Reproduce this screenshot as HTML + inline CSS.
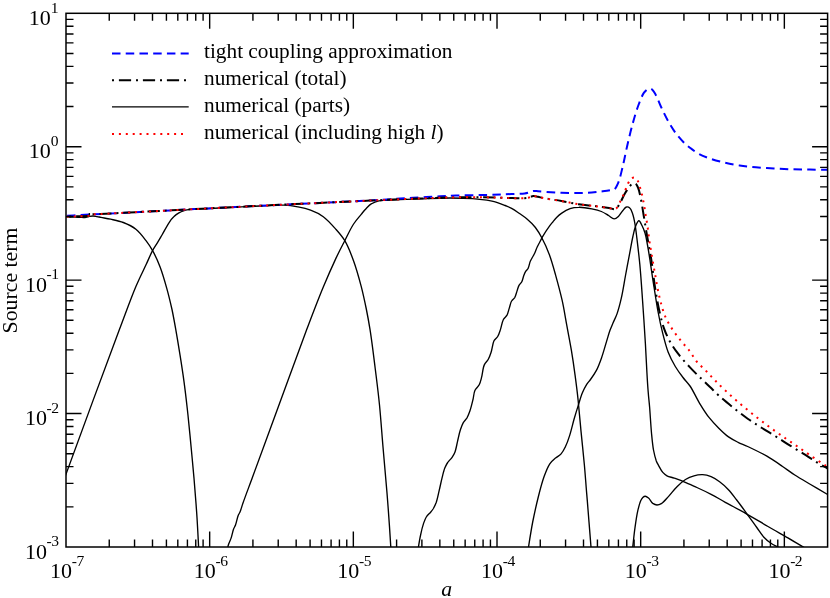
<!DOCTYPE html>
<html><head><meta charset="utf-8"><title>Source term</title>
<style>
html,body{margin:0;padding:0;background:#fff;}
body{width:830px;height:598px;overflow:hidden;font-family:"Liberation Serif",serif;}
svg{display:block;position:absolute;left:0;top:0;will-change:transform;}
text{font-family:"Liberation Serif",serif;fill:#000;}
</style></head><body>
<svg width="830" height="598" viewBox="0 0 830 598">
<rect x="0" y="0" width="830" height="598" fill="#fff"/>
<defs><clipPath id="cp"><rect x="66.0" y="13.3" width="761.6" height="533.7"/></clipPath></defs>

<g clip-path="url(#cp)" fill="none" stroke-linejoin="round">
<path d="M60.0 216.4C62.0 216.5 64.0 216.5 66.0 216.6C68.0 216.7 69.9 216.9 72.0 217.0C74.5 217.1 77.5 217.4 80.0 217.4C82.1 217.4 84.3 217.6 86.0 217.3C87.3 217.1 88.3 216.5 89.5 216.3C90.7 216.1 91.8 216.0 93.0 216.0C94.3 216.0 95.7 216.4 97.0 216.6C98.3 216.8 99.4 217.1 101.0 217.4C103.5 217.9 107.2 218.4 110.6 219.2C114.6 220.1 119.2 220.9 123.3 222.5C127.6 224.2 132.2 226.3 135.9 229.3C139.8 232.4 143.1 236.9 146.0 240.7C148.6 244.1 150.5 246.9 152.6 250.7C155.2 255.3 157.8 260.9 160.0 266.7C162.5 273.2 164.7 280.9 166.7 288.1C168.7 295.2 170.4 302.4 172.0 309.5C173.5 316.6 174.7 323.5 176.0 330.8C177.4 338.6 178.7 346.7 180.0 354.9C181.4 363.6 182.8 372.7 184.0 381.6C185.2 390.4 186.2 399.1 187.2 408.0C188.2 417.0 189.0 425.3 190.0 435.4C191.2 448.1 192.8 464.7 194.0 478.2C195.0 490.4 195.9 501.5 196.7 513.0C197.5 524.4 198.1 537.5 198.6 547.0C199.0 553.9 199.3 559.0 199.6 565.0" stroke="#000" stroke-width="1.35"/>
<path d="M60.0 491.0C61.8 485.9 62.6 483.5 65.4 475.8C74.0 452.0 106.6 363.5 119.5 329.3C126.5 310.8 130.9 298.3 135.9 286.5C139.5 278.0 143.0 271.2 146.0 264.8C148.4 259.7 150.3 254.9 152.4 250.9C154.1 247.7 155.9 245.3 157.5 242.6C159.1 240.0 160.3 237.9 162.0 235.0C164.2 231.3 167.0 225.6 169.3 222.3C170.9 219.9 172.3 218.2 174.0 216.6C175.5 215.1 177.2 213.9 178.9 212.9C180.4 212.0 181.9 211.3 183.5 210.8C185.1 210.3 186.8 210.0 188.5 209.7C190.3 209.4 192.1 209.3 194.0 209.2C196.0 209.1 197.4 209.0 200.0 208.9C204.7 208.7 212.2 208.4 220.0 208.0C231.0 207.5 248.2 206.5 260.0 206.0C269.3 205.6 278.0 204.9 285.0 205.2C290.0 205.4 293.7 206.1 298.0 206.9C302.3 207.7 306.5 208.6 310.6 210.2C314.9 211.8 319.3 213.8 323.3 216.7C327.8 220.0 332.2 225.1 335.9 229.3C339.3 233.1 342.1 236.2 344.8 240.7C348.1 246.3 351.0 253.8 353.6 261.0C356.5 268.9 359.0 278.1 361.2 286.3C363.2 294.0 364.8 301.6 366.3 309.0C367.7 315.9 368.7 321.4 370.0 329.3C371.8 340.5 373.8 356.9 375.4 370.0C376.9 382.1 378.3 392.8 379.5 405.0C380.8 418.4 381.8 432.7 383.0 447.0C384.3 462.0 385.7 477.0 387.0 493.0C388.4 510.3 390.0 533.8 390.8 547.0C391.3 554.6 391.5 559.0 391.8 565.0" stroke="#000" stroke-width="1.35"/>
<path d="M226.5 556.0C227.1 552.5 227.3 548.6 228.2 545.5C228.9 542.9 230.1 541.0 231.0 538.4C232.0 535.5 232.7 531.4 233.6 529.0C234.2 527.4 234.9 526.6 235.5 525.0C236.4 522.6 237.2 518.1 238.1 515.7C238.7 514.1 239.4 513.5 240.0 512.0C241.0 509.7 241.7 506.7 243.0 503.0C245.2 496.7 248.7 487.5 252.3 477.7C257.3 464.2 263.0 448.5 270.0 429.6C280.1 402.2 296.9 355.6 306.8 329.3C313.3 312.2 318.0 299.7 323.3 287.0C327.7 276.5 332.0 266.8 335.9 258.4C339.0 251.8 341.8 246.5 344.8 240.7C347.7 235.0 350.5 228.7 353.6 224.0C356.1 220.2 359.0 217.1 361.2 214.4C362.9 212.3 364.1 210.6 365.8 208.9C367.6 207.1 369.4 205.0 371.6 203.7C373.8 202.3 376.4 201.4 378.9 200.8C381.4 200.2 383.6 200.5 386.5 200.3C390.4 200.1 395.1 199.9 400.0 199.7C406.0 199.4 412.7 199.2 420.0 198.9C429.0 198.6 440.7 198.0 450.0 198.0C458.0 198.0 465.9 198.1 472.5 198.6C477.8 199.0 482.8 199.6 486.8 200.2C489.7 200.6 491.5 200.9 494.2 201.6C497.5 202.5 502.0 204.3 505.1 205.5C507.6 206.5 509.4 207.1 511.6 208.3C514.3 209.7 517.3 212.0 519.9 213.8C522.3 215.5 524.4 216.8 526.7 218.8C529.5 221.2 532.9 224.3 535.4 227.5C537.9 230.7 539.8 234.0 541.9 238.0C544.5 242.8 547.1 248.6 549.3 254.5C551.7 260.9 553.6 267.9 555.6 275.1C557.8 283.0 560.2 291.8 562.1 300.2C564.0 308.5 565.2 316.9 566.8 325.3C568.3 333.7 570.0 342.0 571.4 350.4C572.8 358.7 574.0 367.1 575.1 375.4C576.2 383.6 577.2 391.3 578.1 400.0C579.1 409.8 580.0 420.5 581.0 431.1C582.1 442.2 583.4 454.3 584.4 465.2C585.3 475.1 585.9 484.1 586.7 493.6C587.5 503.1 588.3 512.8 589.0 522.0C589.7 530.6 590.4 539.3 591.0 547.0C591.5 553.5 591.9 559.0 592.3 565.0" stroke="#000" stroke-width="1.35"/>
<path d="M417.0 556.0C417.5 553.1 417.9 550.4 418.4 547.2C419.0 543.5 419.7 539.0 420.6 535.0C421.4 531.1 422.4 526.8 423.5 523.6C424.4 521.1 425.1 518.9 426.3 517.0C427.5 515.2 429.3 513.7 430.6 512.2C431.7 510.9 432.5 509.9 433.4 508.5C434.5 506.7 435.4 504.7 436.3 502.3C437.4 499.1 438.2 494.8 439.1 490.9C440.1 486.8 441.0 482.1 442.0 478.1C442.9 474.5 443.7 470.9 444.8 468.1C445.7 465.9 446.5 464.2 447.7 462.5C448.9 460.7 450.7 459.3 451.9 457.6C453.0 456.0 454.0 454.6 454.8 452.5C456.0 449.5 456.7 444.9 457.6 441.1C458.5 437.3 459.3 433.1 460.4 429.8C461.3 427.1 462.1 424.7 463.3 422.6C464.4 420.8 465.9 419.6 467.0 417.8C468.1 415.9 468.9 413.8 469.8 411.3C471.0 408.0 472.1 403.2 473.0 399.5C473.8 396.3 473.7 393.1 474.9 390.5C475.9 388.3 478.1 386.9 479.2 384.8C480.3 382.6 480.8 380.4 481.5 377.7C482.5 374.1 482.8 368.2 484.3 364.9C485.4 362.5 487.2 361.4 488.3 359.3C489.5 357.1 490.2 354.9 491.1 352.2C492.2 348.9 492.6 343.6 494.0 340.8C495.0 338.9 496.7 338.2 497.7 336.5C498.9 334.5 499.6 332.0 500.5 329.4C501.5 326.4 502.1 322.0 503.4 319.5C504.4 317.6 506.0 316.9 507.0 315.2C508.1 313.2 508.5 310.5 509.3 308.1C510.1 305.7 510.5 302.8 511.6 301.0C512.4 299.5 513.8 299.0 514.7 297.6C515.7 295.9 516.3 293.2 517.0 291.1C517.7 289.1 518.1 287.0 519.0 285.4C519.8 284.0 521.0 283.2 521.8 281.7C522.7 280.0 523.1 277.4 523.8 275.5C524.4 273.9 525.0 272.4 525.8 271.2C526.5 270.1 527.4 269.6 528.1 268.4C529.0 266.6 529.4 263.3 530.3 261.3C531.0 259.7 531.8 258.4 532.6 257.0C533.4 255.6 534.2 254.3 534.9 252.7C535.7 251.0 536.4 248.7 537.2 247.0C537.9 245.5 538.6 244.3 539.4 242.8C540.3 241.0 541.1 239.3 542.3 237.1C544.1 234.0 547.3 229.0 549.3 226.3C550.6 224.5 551.6 223.4 552.8 222.0C554.0 220.5 555.2 218.9 556.6 217.5C558.1 216.0 559.5 214.7 561.4 213.4C563.8 211.7 567.1 209.6 570.1 208.6C572.9 207.6 575.6 207.3 578.8 207.3C582.7 207.2 587.8 208.1 591.8 208.9C595.3 209.6 598.5 210.3 601.4 211.5C604.0 212.6 606.3 214.2 608.5 215.5C610.5 216.7 612.4 218.9 614.2 218.9C615.7 218.9 617.1 217.6 618.4 216.4C620.0 215.0 621.3 212.4 622.7 210.7C623.9 209.3 625.1 207.3 626.4 207.0C627.5 206.7 628.9 207.2 629.8 208.0C631.1 209.1 631.8 211.5 632.6 213.7C633.6 216.5 634.3 220.2 634.9 223.6C635.6 227.3 635.9 230.3 636.5 235.0C637.4 242.5 638.8 253.8 639.8 264.1C640.9 275.7 641.7 288.3 642.6 301.1C643.6 314.8 644.6 330.9 645.4 343.7C646.0 354.1 646.4 363.6 646.9 372.2C647.3 379.4 647.7 385.9 648.2 392.0C648.6 397.3 649.1 401.3 649.6 407.0C650.2 414.5 650.8 425.3 651.5 433.0C652.1 439.3 652.6 445.0 653.5 450.0C654.3 454.1 655.3 458.2 656.3 461.0C657.0 462.8 657.6 463.7 658.5 465.3C659.7 467.4 661.2 470.6 662.8 472.4C664.1 473.9 665.3 474.9 667.0 475.8C669.0 476.9 671.5 477.2 674.1 478.1C677.2 479.2 680.6 480.4 684.1 481.8C688.1 483.4 692.5 485.5 696.9 487.5C701.5 489.6 706.4 491.9 711.1 494.3C715.9 496.8 720.2 499.5 725.3 502.3C731.4 505.7 738.4 509.2 745.2 513.1C752.6 517.3 760.6 522.2 768.0 526.5C774.8 530.5 781.7 534.3 787.9 537.9C793.4 541.1 798.7 544.3 803.5 547.2C807.6 549.6 811.2 551.7 815.0 554.0" stroke="#000" stroke-width="1.35"/>
<path d="M527.0 556.0C527.5 553.0 527.9 550.7 528.5 547.0C529.5 540.7 531.1 530.4 532.7 522.0C534.4 513.5 536.4 504.4 538.4 496.5C540.2 489.4 542.0 482.4 544.1 476.6C545.8 471.8 547.6 467.1 549.8 463.8C551.5 461.3 553.5 459.8 555.5 458.1C557.3 456.5 559.5 455.7 561.1 453.9C562.8 452.0 564.1 449.5 565.4 446.8C567.0 443.5 568.4 439.5 569.7 435.4C571.2 430.6 572.5 424.9 573.9 419.8C575.3 414.9 576.7 410.2 578.2 405.6C579.6 401.2 580.8 396.6 582.4 392.8C583.7 389.6 585.2 386.7 586.7 384.3C587.9 382.4 589.1 381.4 590.5 379.5C592.3 377.0 594.6 373.8 596.4 370.4C598.4 366.6 599.9 362.4 601.5 357.9C603.3 352.9 605.0 346.5 606.5 341.6C607.8 337.5 608.8 333.6 610.0 330.3C611.0 327.6 611.9 325.6 613.0 323.0C614.2 320.1 615.8 317.4 617.0 313.9C618.6 309.4 620.0 303.9 621.3 298.2C622.9 291.4 624.1 283.1 625.5 275.5C626.9 267.9 628.5 259.7 629.8 252.7C630.9 246.7 631.9 240.8 633.0 236.0C633.8 232.3 634.4 229.1 635.5 226.4C636.4 224.2 637.8 220.7 638.9 220.7C639.9 220.7 641.1 223.7 642.0 225.5C643.1 227.7 644.1 230.2 645.0 233.0C646.1 236.5 646.7 240.9 647.5 245.0C648.3 249.3 648.9 253.1 649.7 258.4C650.9 266.1 652.5 277.7 654.0 286.9C655.4 295.7 656.7 304.5 658.2 312.5C659.5 319.6 660.8 325.8 662.5 332.4C664.2 339.1 665.9 346.3 668.2 352.3C670.2 357.5 672.7 362.2 675.3 366.5C677.7 370.5 680.4 374.1 683.0 377.5C685.3 380.6 687.6 382.5 690.0 386.0C693.2 390.6 696.3 397.9 699.6 403.3C702.7 408.4 705.8 413.4 709.2 417.7C712.3 421.6 715.5 425.0 718.8 428.3C721.9 431.4 725.1 434.5 728.5 436.9C731.6 439.1 734.9 440.7 738.1 442.3C741.3 443.9 744.0 444.7 747.7 446.5C753.0 449.0 761.0 452.8 766.9 456.2C772.4 459.4 777.4 462.9 782.2 466.2C786.6 469.2 790.3 472.1 794.8 475.0C799.7 478.2 805.2 481.3 810.6 484.5C816.2 487.8 823.1 491.8 827.6 494.5C830.6 496.3 832.5 497.5 835.0 499.0" stroke="#000" stroke-width="1.35"/>
<path d="M631.5 556.0C631.9 553.0 632.2 550.6 632.7 547.0C633.4 541.8 634.1 533.9 635.0 527.7C635.8 521.8 636.7 515.6 637.8 510.7C638.7 506.9 639.6 503.1 640.7 500.7C641.4 499.3 642.0 498.3 642.8 497.5C643.5 496.8 644.4 496.2 645.3 496.2C646.3 496.2 647.4 497.1 648.5 498.0C650.0 499.2 651.2 502.2 652.8 503.4C654.1 504.3 655.6 505.0 657.0 505.0C658.4 505.0 659.8 504.6 661.3 503.7C663.5 502.4 666.0 499.2 668.4 496.6C671.2 493.6 674.0 489.6 677.0 486.7C679.7 484.0 682.5 481.4 685.5 479.5C688.2 477.8 691.1 476.6 694.0 475.8C696.8 475.0 699.8 474.6 702.6 474.7C705.5 474.8 708.4 475.6 711.1 476.7C714.0 477.9 716.9 479.8 719.6 481.8C722.6 484.0 725.5 486.6 728.2 489.5C731.2 492.6 733.8 496.3 736.7 500.0C739.8 504.0 743.0 508.4 746.2 512.8C749.7 517.5 753.6 523.1 756.8 527.5C759.4 531.1 761.4 534.5 763.9 537.2C766.1 539.6 768.5 541.6 771.0 543.3C773.3 544.9 775.7 545.8 778.1 547.1C780.7 548.4 783.4 549.7 786.0 551.0" stroke="#000" stroke-width="1.35"/>
<path d="M66.0 215.9C73.8 215.5 81.1 215.0 89.4 214.6C98.9 214.1 108.6 213.6 120.0 213.0C134.6 212.2 153.3 211.3 170.0 210.4C186.7 209.5 203.3 208.7 220.0 207.8C236.7 207.0 253.3 206.1 270.0 205.3C286.7 204.5 303.3 203.7 320.0 202.9C336.7 202.1 355.5 201.2 370.0 200.4C381.3 199.8 391.0 199.1 400.0 198.6C407.3 198.2 413.3 197.8 420.0 197.4C426.7 197.0 433.7 196.6 440.0 196.3C445.6 196.0 450.0 195.8 456.0 195.6C463.9 195.3 474.8 195.2 483.4 195.0C491.0 194.8 498.0 194.6 505.0 194.3C511.7 194.0 520.4 193.9 524.6 193.4C526.6 193.2 527.6 192.9 529.0 192.5C530.5 192.1 531.8 191.2 533.3 191.0C534.8 190.8 536.3 191.1 538.0 191.2C539.9 191.3 541.5 191.5 544.0 191.7C548.3 192.0 555.6 192.6 561.4 192.8C567.2 193.0 573.4 193.1 578.8 193.0C583.4 192.9 587.7 192.8 591.8 192.5C595.6 192.2 599.4 191.7 602.7 191.3C605.4 191.0 607.9 190.7 610.0 190.3C611.6 190.0 613.0 190.3 614.2 189.4C615.9 188.2 617.2 185.2 618.4 182.3C620.1 178.2 621.3 172.2 622.7 166.7C624.2 160.5 625.4 153.6 627.0 146.8C628.7 139.4 630.6 131.2 632.6 124.0C634.4 117.5 636.2 111.0 638.3 105.5C640.1 100.8 641.9 95.6 644.0 92.7C645.4 90.8 646.9 89.3 648.3 88.8C649.3 88.4 650.2 88.4 651.1 88.8C652.6 89.5 654.0 91.9 655.4 94.2C657.4 97.5 659.0 102.6 661.1 107.0C663.3 111.6 665.7 116.8 668.2 121.2C670.5 125.3 672.7 129.0 675.3 132.6C677.9 136.1 681.2 139.9 683.8 142.5C685.7 144.4 687.0 145.4 689.0 147.0C691.6 149.0 694.6 151.5 698.0 153.4C701.8 155.5 706.3 157.3 710.7 158.8C715.3 160.4 720.4 161.7 725.2 162.8C730.0 163.9 734.6 164.8 739.6 165.5C744.9 166.3 750.3 166.8 755.9 167.3C761.8 167.8 768.0 168.1 774.0 168.4C780.0 168.7 786.0 169.1 792.0 169.3C798.0 169.5 804.0 169.5 810.0 169.6C815.9 169.7 823.0 169.7 827.6 169.8C830.6 169.8 832.5 169.9 835.0 169.9" stroke="#00f" stroke-width="2" stroke-dasharray="8.5 5.23" stroke-dashoffset="12.63"/>
<path d="M66.0 216.8C70.0 216.6 74.1 216.4 78.0 216.2C81.7 216.0 87.5 216.4 89.0 215.6C89.5 215.3 89.3 214.9 89.8 214.6C91.2 213.9 96.0 214.3 100.0 214.1C105.6 213.8 111.8 213.4 120.0 213.0C132.9 212.3 153.3 211.3 170.0 210.4C186.7 209.5 203.3 208.7 220.0 207.8C236.7 207.0 253.3 206.1 270.0 205.3C286.7 204.5 303.3 203.7 320.0 202.9C336.7 202.1 353.3 201.3 370.0 200.6C386.7 199.9 405.4 199.0 420.0 198.5C431.3 198.1 439.8 197.7 450.0 197.5C460.7 197.3 473.1 197.2 483.0 197.3C491.1 197.4 497.9 197.7 505.0 197.9C511.7 198.0 520.4 198.5 524.6 198.2C526.6 198.1 527.6 197.9 529.0 197.5C530.5 197.1 531.8 196.1 533.3 196.0C534.8 195.9 536.3 196.5 538.0 196.8C539.9 197.2 541.5 197.7 544.0 198.2C548.3 199.0 555.6 200.0 561.4 201.0C567.2 202.0 573.0 203.4 578.8 204.3C584.5 205.2 590.7 205.5 596.0 206.2C600.6 206.8 605.4 207.5 609.0 208.0C611.6 208.4 613.8 209.8 615.6 209.0C617.6 208.2 618.8 204.9 620.3 202.5C621.9 199.8 623.3 196.3 624.9 193.6C626.2 191.3 627.6 189.1 629.0 187.3C630.2 185.8 631.5 184.1 632.8 183.6C633.7 183.2 634.7 183.1 635.5 183.5C636.5 184.0 637.3 185.8 638.0 187.5C639.2 190.2 639.9 194.4 640.8 198.5C641.8 203.4 642.7 209.4 643.6 215.0C644.6 220.7 645.4 226.1 646.5 232.5C647.8 240.3 649.7 249.3 651.1 258.4C652.7 268.3 653.8 280.1 655.4 289.7C656.7 297.9 658.1 305.6 659.7 312.5C661.0 318.2 662.2 323.2 663.9 328.1C665.5 332.6 667.3 336.7 669.6 340.9C672.0 345.3 674.9 349.5 678.1 353.7C681.6 358.3 686.0 363.2 690.0 367.4C693.6 371.3 697.4 374.9 700.9 378.3C704.1 381.4 707.0 384.1 710.0 387.0C713.0 389.9 715.5 392.6 718.8 395.6C722.9 399.3 728.2 403.6 733.0 407.5C737.8 411.3 742.8 415.2 747.7 418.7C752.4 422.0 757.2 425.0 762.0 428.0C766.8 431.0 771.7 433.9 776.5 436.9C781.3 439.9 786.2 443.2 791.0 446.2C795.8 449.2 800.8 452.0 805.4 454.9C809.6 457.5 813.5 460.3 817.4 462.7C820.9 464.9 824.5 466.8 827.6 468.6C830.3 470.1 832.5 471.3 835.0 472.6" stroke="#000" stroke-width="2" stroke-dasharray="2 4.9 12.2 4.9" stroke-dashoffset="20.8"/>
<path d="M66.0 216.8C70.0 216.6 74.1 216.4 78.0 216.2C81.7 216.0 87.5 216.4 89.0 215.6C89.5 215.3 89.3 214.9 89.8 214.6C91.2 213.9 96.0 214.3 100.0 214.1C105.6 213.8 111.8 213.4 120.0 213.0C132.9 212.3 153.3 211.3 170.0 210.4C186.7 209.5 203.3 208.7 220.0 207.8C236.7 207.0 253.3 206.1 270.0 205.3C286.7 204.5 303.3 203.7 320.0 202.9C336.7 202.1 353.3 201.3 370.0 200.6C386.7 199.9 405.4 199.0 420.0 198.5C431.3 198.1 439.8 197.7 450.0 197.5C460.7 197.3 473.1 197.2 483.0 197.3C491.1 197.4 497.9 197.7 505.0 197.9C511.7 198.0 520.4 198.5 524.6 198.2C526.6 198.1 527.6 197.9 529.0 197.5C530.5 197.1 531.8 196.1 533.3 196.0C534.8 195.9 536.3 196.5 538.0 196.8C539.9 197.2 541.5 197.7 544.0 198.2C548.3 199.0 555.6 200.0 561.4 201.0C567.2 202.0 573.0 203.4 578.8 204.3C584.5 205.2 590.7 205.5 596.0 206.2C600.6 206.8 605.4 207.5 609.0 208.0C611.6 208.4 613.9 209.8 615.6 209.0C617.4 208.2 618.4 204.8 619.6 202.7C620.8 200.6 621.8 198.4 622.8 196.3C623.7 194.3 624.4 192.4 625.2 190.3C626.1 188.1 627.1 185.4 628.0 183.5C628.7 182.1 629.3 180.9 630.0 180.0C630.6 179.2 631.2 178.5 632.0 178.1C632.7 177.7 633.7 177.4 634.5 177.6C635.5 177.8 636.5 178.8 637.3 179.9C638.4 181.5 639.1 184.3 639.8 186.6C640.5 188.8 641.1 191.2 641.7 193.4C642.2 195.6 642.7 197.7 643.1 199.9C643.6 202.2 644.0 204.6 644.4 207.0C644.8 209.4 645.1 211.7 645.5 214.1C645.9 216.5 646.3 218.9 646.7 221.2C647.1 223.4 647.4 225.4 647.7 227.6C648.0 229.9 648.3 232.3 648.6 234.7C648.9 237.1 649.2 239.4 649.5 241.8C649.9 244.2 650.2 245.9 650.7 249.0C651.7 254.6 653.3 264.7 654.8 272.7C656.3 281.1 657.8 290.4 659.7 298.2C661.4 304.9 663.0 311.2 665.3 316.7C667.3 321.5 669.9 325.4 672.5 329.5C675.1 333.5 678.1 337.3 681.0 340.9C683.8 344.4 686.9 347.4 689.5 350.8C692.1 354.2 693.9 358.1 696.7 361.5C699.6 365.0 703.4 368.2 706.6 371.5C709.6 374.6 712.3 377.7 715.4 380.8C718.6 384.1 721.8 387.3 725.6 390.8C730.2 395.1 735.7 400.0 741.0 404.5C746.3 409.0 752.0 413.6 757.3 417.7C762.2 421.5 766.7 425.0 771.5 428.5C776.3 432.0 781.6 435.6 786.2 438.8C790.2 441.6 793.7 443.9 797.5 446.5C801.4 449.2 805.0 451.7 809.2 454.6C814.2 458.0 820.9 462.5 825.6 465.6C829.2 467.9 831.9 469.6 835.0 471.6" stroke="#f00" stroke-width="2" stroke-dasharray="2 4.9" stroke-dashoffset="6.11"/>
<path d="M89.4 212.9V215.6" stroke="#000" stroke-width="1.3"/>
</g>
<path d="M109.25 547.00v-7.5M109.25 13.30v7.5M134.55 547.00v-7.5M134.55 13.30v7.5M152.50 547.00v-7.5M152.50 13.30v7.5M166.42 547.00v-7.5M166.42 13.30v7.5M177.80 547.00v-7.5M177.80 13.30v7.5M187.42 547.00v-7.5M187.42 13.30v7.5M195.75 547.00v-7.5M195.75 13.30v7.5M203.10 547.00v-7.5M203.10 13.30v7.5M209.67 547.00v-15.5M209.67 13.30v15.5M252.92 547.00v-7.5M252.92 13.30v7.5M278.22 547.00v-7.5M278.22 13.30v7.5M296.17 547.00v-7.5M296.17 13.30v7.5M310.09 547.00v-7.5M310.09 13.30v7.5M321.47 547.00v-7.5M321.47 13.30v7.5M331.09 547.00v-7.5M331.09 13.30v7.5M339.42 547.00v-7.5M339.42 13.30v7.5M346.77 547.00v-7.5M346.77 13.30v7.5M353.34 547.00v-15.5M353.34 13.30v15.5M396.59 547.00v-7.5M396.59 13.30v7.5M421.89 547.00v-7.5M421.89 13.30v7.5M439.84 547.00v-7.5M439.84 13.30v7.5M453.76 547.00v-7.5M453.76 13.30v7.5M465.14 547.00v-7.5M465.14 13.30v7.5M474.76 547.00v-7.5M474.76 13.30v7.5M483.09 547.00v-7.5M483.09 13.30v7.5M490.44 547.00v-7.5M490.44 13.30v7.5M497.01 547.00v-15.5M497.01 13.30v15.5M540.26 547.00v-7.5M540.26 13.30v7.5M565.56 547.00v-7.5M565.56 13.30v7.5M583.51 547.00v-7.5M583.51 13.30v7.5M597.43 547.00v-7.5M597.43 13.30v7.5M608.81 547.00v-7.5M608.81 13.30v7.5M618.43 547.00v-7.5M618.43 13.30v7.5M626.76 547.00v-7.5M626.76 13.30v7.5M634.11 547.00v-7.5M634.11 13.30v7.5M640.68 547.00v-15.5M640.68 13.30v15.5M683.93 547.00v-7.5M683.93 13.30v7.5M709.23 547.00v-7.5M709.23 13.30v7.5M727.18 547.00v-7.5M727.18 13.30v7.5M741.10 547.00v-7.5M741.10 13.30v7.5M752.48 547.00v-7.5M752.48 13.30v7.5M762.10 547.00v-7.5M762.10 13.30v7.5M770.43 547.00v-7.5M770.43 13.30v7.5M777.78 547.00v-7.5M777.78 13.30v7.5M784.35 547.00v-15.5M784.35 13.30v15.5M66.00 506.84h7.5M827.60 506.84h-7.5M66.00 483.34h7.5M827.60 483.34h-7.5M66.00 466.67h7.5M827.60 466.67h-7.5M66.00 453.74h7.5M827.60 453.74h-7.5M66.00 443.18h7.5M827.60 443.18h-7.5M66.00 434.24h7.5M827.60 434.24h-7.5M66.00 426.51h7.5M827.60 426.51h-7.5M66.00 419.68h7.5M827.60 419.68h-7.5M66.00 413.57h15.5M827.60 413.57h-15.5M66.00 373.41h7.5M827.60 373.41h-7.5M66.00 349.92h7.5M827.60 349.92h-7.5M66.00 333.25h7.5M827.60 333.25h-7.5M66.00 320.31h7.5M827.60 320.31h-7.5M66.00 309.75h7.5M827.60 309.75h-7.5M66.00 300.82h7.5M827.60 300.82h-7.5M66.00 293.08h7.5M827.60 293.08h-7.5M66.00 286.26h7.5M827.60 286.26h-7.5M66.00 280.15h15.5M827.60 280.15h-15.5M66.00 239.99h7.5M827.60 239.99h-7.5M66.00 216.49h7.5M827.60 216.49h-7.5M66.00 199.82h7.5M827.60 199.82h-7.5M66.00 186.89h7.5M827.60 186.89h-7.5M66.00 176.33h7.5M827.60 176.33h-7.5M66.00 167.39h7.5M827.60 167.39h-7.5M66.00 159.66h7.5M827.60 159.66h-7.5M66.00 152.83h7.5M827.60 152.83h-7.5M66.00 146.72h15.5M827.60 146.72h-15.5M66.00 106.56h7.5M827.60 106.56h-7.5M66.00 83.07h7.5M827.60 83.07h-7.5M66.00 66.40h7.5M827.60 66.40h-7.5M66.00 53.46h7.5M827.60 53.46h-7.5M66.00 42.90h7.5M827.60 42.90h-7.5M66.00 33.97h7.5M827.60 33.97h-7.5M66.00 26.23h7.5M827.60 26.23h-7.5M66.00 19.41h7.5M827.60 19.41h-7.5" stroke="#000" stroke-width="1.4" fill="none"/>
<rect x="66.00" y="13.30" width="761.60" height="533.70" fill="none" stroke="#000" stroke-width="1.5"/>
<text x="66.9" y="577.8" font-size="22" text-anchor="middle">10<tspan dy="-12.3" font-size="15.6" dx="-0.3" letter-spacing="-0.5">-7</tspan></text>
<text x="210.6" y="577.8" font-size="22" text-anchor="middle">10<tspan dy="-12.3" font-size="15.6" dx="-0.3" letter-spacing="-0.5">-6</tspan></text>
<text x="354.2" y="577.8" font-size="22" text-anchor="middle">10<tspan dy="-12.3" font-size="15.6" dx="-0.3" letter-spacing="-0.5">-5</tspan></text>
<text x="497.9" y="577.8" font-size="22" text-anchor="middle">10<tspan dy="-12.3" font-size="15.6" dx="-0.3" letter-spacing="-0.5">-4</tspan></text>
<text x="641.6" y="577.8" font-size="22" text-anchor="middle">10<tspan dy="-12.3" font-size="15.6" dx="-0.3" letter-spacing="-0.5">-3</tspan></text>
<text x="785.3" y="577.8" font-size="22" text-anchor="middle">10<tspan dy="-12.3" font-size="15.6" dx="-0.3" letter-spacing="-0.5">-2</tspan></text>
<text x="58.6" y="558.5" font-size="22" text-anchor="end">10<tspan dy="-12.3" font-size="15.6" dx="-0.3" letter-spacing="-0.5">-3</tspan></text>
<text x="58.6" y="425.1" font-size="22" text-anchor="end">10<tspan dy="-12.3" font-size="15.6" dx="-0.3" letter-spacing="-0.5">-2</tspan></text>
<text x="58.6" y="291.6" font-size="22" text-anchor="end">10<tspan dy="-12.3" font-size="15.6" dx="-0.3" letter-spacing="-0.5">-1</tspan></text>
<text x="58.6" y="158.2" font-size="22" text-anchor="end">10<tspan dy="-12.3" font-size="15.6">0</tspan></text>
<text x="58.6" y="24.8" font-size="22" text-anchor="end">10<tspan dy="-12.3" font-size="15.6">1</tspan></text>
<text x="446.7" y="595.7" font-size="21.8" font-style="italic" text-anchor="middle">a</text>
<text transform="translate(17 280.5) rotate(-90)" font-size="21.8" text-anchor="middle">Source term</text>
<path d="M112 53.5H188.7" stroke="#00f" stroke-width="2" stroke-dasharray="8.5 5.23" fill="none"/>
<path d="M112 80.2H188.7" stroke="#000" stroke-width="2" stroke-dasharray="2 4.9 12.2 4.9" stroke-dashoffset="0" fill="none"/>
<path d="M112 106.8H188.7" stroke="#000" stroke-width="1.35" fill="none"/>
<path d="M112 133.9H186" stroke="#f00" stroke-width="2" stroke-dasharray="2 4.9" fill="none"/>
<text x="204" y="58.2" font-size="21.3">tight coupling approximation</text>
<text x="204" y="85.2" font-size="21.3">numerical (total)</text>
<text x="204" y="111.9" font-size="21.3">numerical (parts)</text>
<text x="204" y="138.7" font-size="21.3">numerical (including high <tspan font-style="italic">l</tspan>)</text>
</svg>
</body></html>
